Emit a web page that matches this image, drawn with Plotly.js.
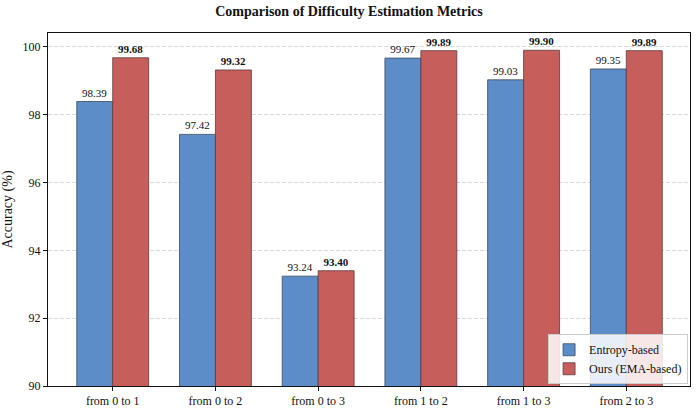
<!DOCTYPE html>
<html>
<head>
<meta charset="utf-8">
<script src="https://cdn.plot.ly/plotly-3.0.1.min.js"></script>
<style>
  html, body { margin: 0; padding: 0; background: #fff; }
  #chart { width: 698px; height: 409px; }
</style>
</head>
<body>
<div id="chart"></div>
<script>
// Transition pairs between difficulty levels
const categories = ['from 0 to 1', 'from 0 to 2', 'from 0 to 3', 'from 1 to 2', 'from 1 to 3', 'from 2 to 3'];
// Accuracy (%) for each metric
const entropyAcc = [98.39, 97.42, 93.24, 99.67, 99.03, 99.35];
const emaAcc = [99.68, 99.32, 93.40, 99.89, 99.90, 99.89];
const yTicks = [90, 92, 94, 96, 98, 100];

const serif = 'Liberation Serif, Times New Roman, serif';
const idx = categories.map((_, i) => i);
const barW = 0.35;

const traces = [
  {
    type: 'bar', name: 'Entropy-based',
    x: idx.map(i => i - barW / 2), y: entropyAcc, width: barW,
    marker: { color: '#5d8dc8', line: { color: '#3c4a5c', width: 0.8 } },
    text: entropyAcc.map(v => v.toFixed(2)), textposition: 'outside',
    textfont: { family: serif, size: 11, color: '#111' },
    cliponaxis: false, hoverinfo: 'y'
  },
  {
    type: 'bar', name: 'Ours (EMA-based)',
    x: idx.map(i => i + barW / 2), y: emaAcc, width: barW,
    marker: { color: '#c65e5b', line: { color: '#5c3c3c', width: 0.8 } },
    text: emaAcc.map(v => v.toFixed(2)), textposition: 'outside',
    textfont: { family: serif, size: 11, color: '#111', weight: 'bold' },
    cliponaxis: false, hoverinfo: 'y'
  }
];

const layout = {
  width: 698, height: 409,
  margin: { l: 48, r: 8, t: 33, b: 23 },
  paper_bgcolor: '#fff', plot_bgcolor: '#fff',
  font: { family: serif, color: '#111' },
  title: {
    text: '<b>Comparison of Difficulty Estimation Metrics</b>',
    font: { family: serif, size: 14, color: '#111' },
    x: 0.5, xanchor: 'center', y: 0.985, yanchor: 'top'
  },
  barmode: 'overlay',
  bargap: 0,
  xaxis: {
    range: [-0.63, 5.62],
    tickmode: 'array', tickvals: idx, ticktext: categories,
    tickfont: { family: serif, size: 12, color: '#111' },
    ticks: 'outside', ticklen: 4, tickcolor: '#111',
    showgrid: false, zeroline: false,
    showline: true, linecolor: '#111', linewidth: 1, mirror: true
  },
  yaxis: {
    range: [90, 100.41],
    tickmode: 'array', tickvals: yTicks, ticktext: yTicks.map(String),
    tickfont: { family: serif, size: 12, color: '#111' },
    ticks: 'outside', ticklen: 4, tickcolor: '#111',
    title: { text: 'Accuracy (%)', font: { family: serif, size: 14, color: '#111' }, standoff: 8 },
    showgrid: true, gridcolor: '#cfcfcf', griddash: '4px,2px', gridwidth: 0.8,
    zeroline: false,
    showline: true, linecolor: '#111', linewidth: 1, mirror: true
  },
  legend: {
    x: 0.997, y: 0.005, xanchor: 'right', yanchor: 'bottom',
    bgcolor: 'rgba(255,255,255,0.85)', bordercolor: '#cccccc', borderwidth: 1,
    font: { family: serif, size: 12, color: '#111' },
    traceorder: 'normal'
  },
  showlegend: true
};

Plotly.newPlot('chart', traces, layout, { displayModeBar: false, staticPlot: true });
</script>
</body>
</html>
